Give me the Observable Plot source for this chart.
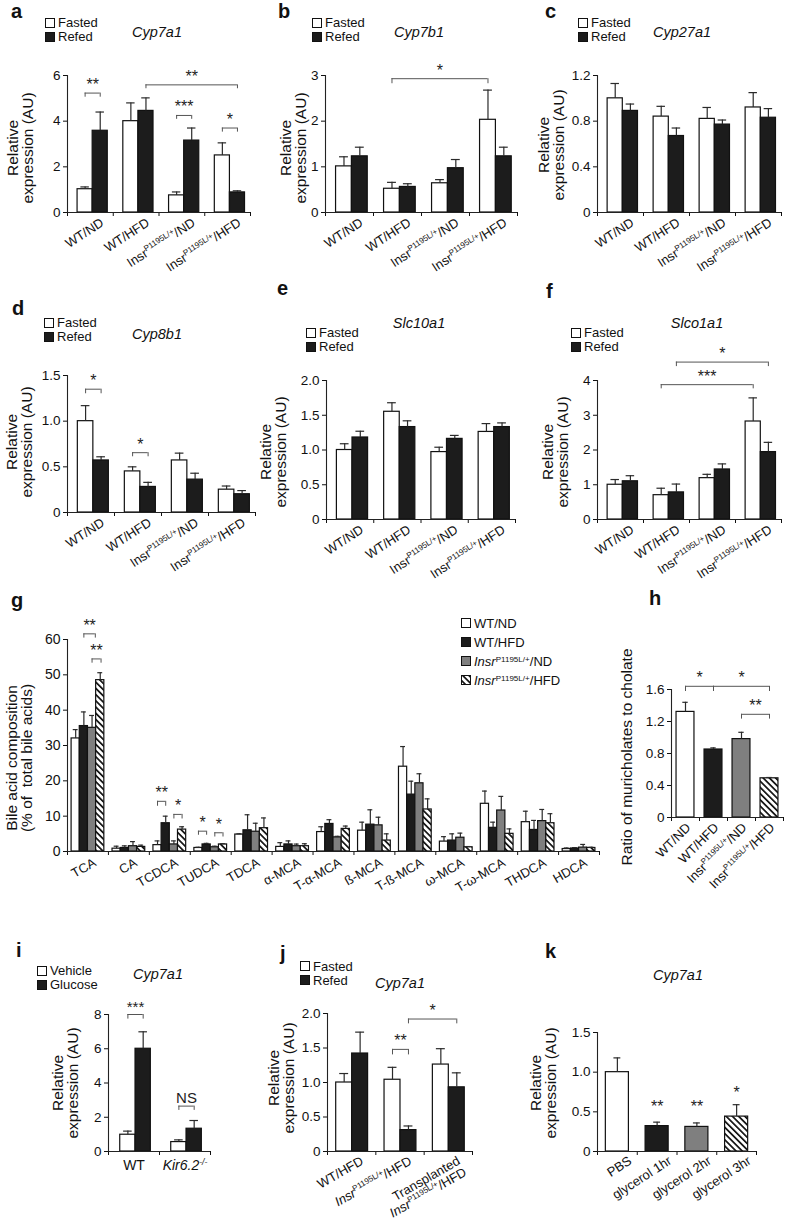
<!DOCTYPE html>
<html>
<head>
<meta charset="utf-8">
<script src="https://cdn.jsdelivr.net/npm/d3@7"></script>
<script src="https://cdn.jsdelivr.net/npm/@observablehq/plot@0.6"></script>
<style>
  html, body { margin: 0; padding: 0; background: #fff; }
  #fig { position: relative; width: 787px; height: 1225px; overflow: hidden;
         font-family: "Liberation Sans", Arial, Helvetica, sans-serif; color: #111; }
  .abs { position: absolute; white-space: nowrap; }
  .panel svg { overflow: visible; display: block; }
  sup { font-size: 62%; line-height: 0; vertical-align: 0.5em; }
  .ylab { position: absolute; white-space: nowrap; text-align: center; font-size: 15.5px; line-height: 15px;
          transform: translate(-50%, -50%) rotate(-90deg); }
  .leg { position: absolute; font-size: 13px; line-height: 13px; height: 13px; display: flex; align-items: center; white-space: nowrap; }
  .leg span { display: block; line-height: 13px; height: 13px; }
</style>
</head>
<body>
<svg width="0" height="0" style="position:absolute">
  <defs>
    <pattern id="hatch" patternUnits="userSpaceOnUse" width="4.4" height="4.4" patternTransform="rotate(-45)">
      <rect width="4.4" height="4.4" fill="#ffffff"/>
      <rect width="1.7" height="4.4" fill="#111111"/>
    </pattern>
  </defs>
</svg>
<div id="fig"></div>
<script>
// ================= DATA =================
const groups4 = ["WT/ND", "WT/HFD", "Insr<sup>P1195L/+</sup>/ND", "Insr<sup>P1195L/+</sup>/HFD"];
const feedNames = ["Fasted", "Refed"];

// a  Cyp7a1
const aFasted = [1.02, 4.0, 0.75, 2.5];
const aFastedTop = [1.12, 4.8, 0.9, 3.05];
const aRefed = [3.58, 4.45, 3.15, 0.88];
const aRefedTop = [4.4, 5.02, 3.7, 0.95];
const aSig = [
  {g1: 0, s1: 0, g2: 0, s2: 1, y: 5.23, leg: 5.05, label: "**"},
  {g1: 1, s1: 1, g2: 3, s2: 1, y: 5.59, leg: 5.42, label: "**"},
  {g1: 2, s1: 0, g2: 2, s2: 1, y: 4.25, leg: 4.08, label: "***"},
  {g1: 3, s1: 0, g2: 3, s2: 1, y: 3.70, leg: 3.52, label: "*"}
];

// b  Cyp7b1
const bFasted = [1.01, 0.52, 0.64, 2.03];
const bFastedTop = [1.22, 0.66, 0.72, 2.68];
const bRefed = [1.23, 0.56, 0.97, 1.23];
const bRefedTop = [1.43, 0.63, 1.16, 1.43];
const bSig = [{g1: 1, s1: 0, g2: 3, s2: 0, y: 2.93, leg: 2.82, label: "*"}];

// c  Cyp27a1
const cFasted = [1.0, 0.84, 0.82, 0.92];
const cFastedTop = [1.13, 0.93, 0.92, 1.05];
const cRefed = [0.89, 0.67, 0.77, 0.83];
const cRefedTop = [0.95, 0.74, 0.81, 0.91];

// d  Cyp8b1
const dFasted = [1.0, 0.45, 0.57, 0.25];
const dFastedTop = [1.17, 0.5, 0.65, 0.29];
const dRefed = [0.57, 0.28, 0.36, 0.2];
const dRefedTop = [0.61, 0.33, 0.43, 0.24];
const dSig = [
  {g1: 0, s1: 0, g2: 0, s2: 1, y: 1.35, leg: 1.30, label: "*"},
  {g1: 1, s1: 0, g2: 1, s2: 1, y: 0.655, leg: 0.61, label: "*"}
];

// e  Slc10a1
const eFasted = [1.0, 1.55, 0.97, 1.26];
const eFastedTop = [1.09, 1.68, 1.04, 1.38];
const eRefed = [1.18, 1.33, 1.16, 1.33];
const eRefedTop = [1.27, 1.42, 1.21, 1.39];

// f  Slco1a1
const fFasted = [1.0, 0.7, 1.19, 2.82];
const fFastedTop = [1.15, 0.9, 1.3, 3.5];
const fRefed = [1.1, 0.78, 1.44, 1.94];
const fRefedTop = [1.26, 1.02, 1.6, 2.22];
const fSig = [
  {g1: 1, s1: 0, g2: 3, s2: 0, y: 3.88, leg: 3.76, label: "***"},
  {g1: 1, s1: 1, g2: 3, s2: 1, y: 4.53, leg: 4.40, label: "*"}
];

// g  bile acid composition
const bileAcids = ["TCA", "CA", "TCDCA", "TUDCA", "TDCA", "α-MCA", "T-α-MCA", "ß-MCA", "T-ß-MCA", "ω-MCA", "T-ω-MCA", "THDCA", "HDCA"];
const genoNames = ["WT/ND", "WT/HFD", "<i>Insr</i><sup>P1195L/+</sup>/ND", "<i>Insr</i><sup>P1195L/+</sup>/HFD"];
const gWTND      = [32.0, 0.8, 1.8, 1.0, 4.8, 1.3, 5.5, 5.9, 24.0, 2.8, 13.5, 8.3, 0.7];
const gWTNDTop   = [34.5, 1.5, 3.0, 1.2, 5.0, 2.5, 7.0, 8.3, 29.7, 4.2, 17.1, 11.4, 1.0];
const gWTHFD     = [35.5, 1.0, 8.0, 2.0, 6.0, 2.0, 7.8, 7.6, 16.1, 3.1, 6.7, 6.1, 0.85];
const gWTHFDTop  = [39.5, 1.6, 10.0, 2.3, 10.4, 3.0, 9.0, 11.8, 19.9, 5.0, 8.3, 8.8, 1.1];
const gInsND     = [35.0, 1.5, 2.0, 1.2, 5.6, 1.5, 4.0, 7.4, 19.3, 3.9, 11.6, 8.6, 1.1];
const gInsNDTop  = [38.5, 2.8, 3.0, 1.5, 8.0, 2.1, 4.3, 9.7, 22.0, 5.2, 15.6, 11.9, 2.0];
const gInsHFD    = [48.5, 1.3, 6.2, 2.0, 6.6, 1.5, 6.4, 3.1, 11.9, 1.2, 5.0, 8.0, 1.0];
const gInsHFDTop = [50.6, 1.8, 7.0, 2.2, 9.5, 2.2, 7.2, 5.0, 14.9, 1.4, 6.4, 10.7, 1.2];
const gSig = [
  {g1: 0, s1: 1, g2: 0, s2: 2.4, y: 61.6, leg: 60.4, label: "**"},
  {g1: 0, s1: 2, g2: 0, s2: 3.1, y: 54.5, leg: 53.3, label: "**"},
  {g1: 2, s1: 0, g2: 2, s2: 1, y: 14.2, leg: 12.8, label: "**"},
  {g1: 2, s1: 2, g2: 2, s2: 3, y: 10.5, leg: 9.2, label: "*"},
  {g1: 3, s1: 0, g2: 3, s2: 1, y: 5.75, leg: 4.6, label: "*"},
  {g1: 3, s1: 2, g2: 3, s2: 3, y: 5.3, leg: 4.1, label: "*"}
];

// h  ratio of muricholates to cholate
const hGroups = ["WT/ND", "WT/HFD", "Insr<sup>P1195L/+</sup>/ND", "Insr<sup>P1195L/+</sup>/HFD"];
const hRatio = [1.32, 0.85, 0.98, 0.49];
const hRatioTop = [1.44, 0.87, 1.065, 0.50];
const hSig = [
  {g1: 0, s1: 0, g2: 1, s2: 0, y: 1.64, leg: 1.575, label: "*"},
  {g1: 1, s1: 0, g2: 3, s2: 0, y: 1.64, leg: 1.575, label: "*"},
  {g1: 2, s1: 0, g2: 3, s2: 0, y: 1.29, leg: 1.23, label: "**"}
];

// i  Cyp7a1, glucose
const iGroups = ["WT", "<i>Kir6.2</i><sup><i>-/-</i></sup>"];
const iNames = ["Vehicle", "Glucose"];
const iVehicle = [0.98, 0.55];
const iVehicleTop = [1.19, 0.68];
const iGlucose = [6.0, 1.33];
const iGlucoseTop = [6.99, 1.81];
const iSig = [
  {g1: 0, s1: 0, g2: 0, s2: 1, y: 8.0, leg: 7.73, label: "***"},
  {g1: 1, s1: 0, g2: 1, s2: 1, y: 2.65, leg: 2.4, label: "NS"}
];

// j  Cyp7a1, transplantation
const jGroups = ["WT/HFD", "<i>Insr</i><sup>P1195L/+</sup>/HFD", "Transplanted\n<i>Insr</i><sup>P1195L/+</sup>/HFD"];
const jFasted = [1.0, 1.04, 1.26];
const jFastedTop = [1.13, 1.22, 1.49];
const jRefed = [1.42, 0.31, 0.93];
const jRefedTop = [1.73, 0.37, 1.14];
const jSig = [
  {g1: 1, s1: 0, g2: 1, s2: 1, y: 1.48, leg: 1.40, label: "**"},
  {g1: 1, s1: 1, g2: 2, s2: 1, y: 1.92, leg: 1.85, label: "*"}
];

// k  Cyp7a1, glycerol
const kGroups = ["PBS", "glycerol 1hr", "glycerol 2hr", "glycerol 3hr"];
const kValues = [1.0, 0.32, 0.31, 0.44];
const kTops = [1.18, 0.37, 0.36, 0.59];
const kStars = [
  {g: 1, y: 0.50, label: "**"},
  {g: 2, y: 0.50, label: "**"},
  {g: 3, y: 0.68, label: "*"}
];

// ================= STYLE =================
const FONT = '"Liberation Sans", Arial, Helvetica, sans-serif';
const WHITE = "#ffffff", BLACK = "#1c1c1c", GREY = "#7f7f7f", HATCH = "url(#hatch)";
const fmtInt = d => String(d);
const fmtDec = d => d === 0 ? "0" : d.toFixed(1);
const fig = document.getElementById("fig");
const NS = "http://www.w3.org/2000/svg";

// turn <i>..</i> and <sup>..</sup> markup in svg text into tspans
function richify(root) {
  const leaves = Array.from(root.querySelectorAll("text, tspan")).filter(el => el.children.length === 0 && el.textContent.includes("<"));
  for (const el of leaves) {
    const parts = el.textContent.split(/(<\/?(?:i|sup)>)/);
    el.textContent = "";
    let italic = false, sup = false, shifted = false;
    for (const p of parts) {
      if (p === "<i>") italic = true;
      else if (p === "</i>") italic = false;
      else if (p === "<sup>") sup = true;
      else if (p === "</sup>") sup = false;
      else if (p) {
        const t = document.createElementNS(NS, "tspan");
        t.textContent = p;
        if (italic) t.setAttribute("font-style", "italic");
        if (sup) {
          t.style.fontSize = "62%";
          if (!shifted) { t.setAttribute("dy", "-0.62em"); shifted = true; }
        } else if (shifted) {
          t.setAttribute("dy", "0.385em"); shifted = false;
        }
        el.appendChild(t);
      }
    }
  }
}

function panel(p) {
  const n = p.groups.length;
  const rows = [];
  p.series.forEach((s, j) => s.values.forEach((v, i) => {
    const x1 = i + p.off + j * p.bw;
    rows.push({j, fill: s.fills ? s.fills[i] : s.fill, x1, x2: x1 + p.bw, xc: x1 + p.bw / 2,
      cl: x1 + p.bw * (0.5 - p.cap), cr: x1 + p.bw * (0.5 + p.cap), v, top: s.tops[i], base: 0});
  }));
  const xAt = (g, s) => g + p.off + (s + 0.5) * p.bw;
  const sig = (p.sig || []).map(b => {
    const xa = xAt(b.g1, b.s1), xb = xAt(b.g2, b.s2);
    return {...b, xa, xb, xm: (xa + xb) / 2};
  });
  const stars = (p.stars || []).map(s => ({...s, x: xAt(s.g, 0)}));
  const labels = p.groups.map((g, i) => ({label: g, x: i + 0.5, y: 0}));
  const marks = [];
  for (const [fill, rs] of d3.group(rows, r => r.fill)) {
    marks.push(Plot.rect(rs, {x1: "x1", x2: "x2", y1: "base", y2: "v", fill, stroke: "#111", strokeWidth: 1.2}));
  }
  marks.push(Plot.ruleX(rows, {x: "xc", y1: "v", y2: "top", stroke: "#2a2a2a", strokeWidth: 1.2}));
  marks.push(Plot.ruleY(rows, {y: "top", x1: "cl", x2: "cr", stroke: "#2a2a2a", strokeWidth: 1.2}));
  marks.push(Plot.ruleY([0], {stroke: "#222", strokeWidth: 1.1}));
  marks.push(Plot.ruleX([0], {y1: 0, y2: p.yMax, stroke: "#222", strokeWidth: 1.1}));
  marks.push(Plot.ruleY(sig, {y: "y", x1: "xa", x2: "xb", stroke: "#555", strokeWidth: 1}));
  marks.push(Plot.ruleX(sig, {x: "xa", y1: "leg", y2: "y", stroke: "#555", strokeWidth: 1}));
  marks.push(Plot.ruleX(sig, {x: "xb", y1: "leg", y2: "y", stroke: "#555", strokeWidth: 1}));
  marks.push(Plot.text(sig, {x: "xm", y: "y", text: "label", lineAnchor: "bottom", dy: -3, fontSize: p.sigSize || 16, fill: "#222"}));
  marks.push(Plot.text(stars, {x: "x", y: "y", text: "label", lineAnchor: "bottom", fontSize: 16, fill: "#222"}));
  marks.push(Plot.text(labels, {x: "x", y: "y", text: "label", rotate: p.rot,
    textAnchor: p.rot ? "end" : "middle", lineAnchor: p.lineAnchor || "middle",
    dx: p.ldx, dy: p.ldy, fontSize: p.lsize || 13, fill: "#111"}));
  const [bl, bt, bw, bh] = p.box;
  const [fl, ft, fr, fb] = p.frame;
  const svg = Plot.plot({
    width: bw, height: bh,
    marginLeft: fl - bl, marginTop: ft - bt, marginRight: bl + bw - fr, marginBottom: bt + bh - fb,
    style: {fontFamily: FONT, fontSize: (p.tsize || 13.5) + "px", color: "#111", background: "none", overflow: "visible"},
    x: {domain: [0, n], ticks: d3.range(0, n + 1), tickFormat: () => "", tickSize: 4, label: null},
    y: {domain: [0, p.yMax], ticks: p.ticks, tickFormat: p.fmt, tickSize: 4, tickPadding: 3, label: null},
    marks
  });
  richify(svg);
  const holder = document.createElement("div");
  holder.className = "panel abs";
  holder.style.left = bl + "px";
  holder.style.top = bt + "px";
  holder.appendChild(svg);
  fig.appendChild(holder);
}

function text(html, x, baseline, size, o = {}) {
  const d = document.createElement("div");
  d.className = "abs";
  d.innerHTML = html;
  d.style.fontSize = size + "px";
  d.style.lineHeight = size + "px";
  d.style.left = x + "px";
  d.style.top = (baseline - 0.8465 * size) + "px";
  if (o.bold) d.style.fontWeight = "bold";
  if (o.italic) d.style.fontStyle = "italic";
  if (o.center) d.style.transform = "translateX(-50%)";
  fig.appendChild(d);
}
function legend(x, ys, names, fills) {
  names.forEach((name, k) => {
    const d = document.createElement("div");
    d.className = "leg";
    d.style.left = x + "px";
    d.style.top = (ys[k] - 6.5) + "px";
    d.innerHTML = `<svg width="10" height="10" style="margin-right:3px;flex:none;display:block"><rect x="0.5" y="0.5" width="9" height="9" fill="${fills[k]}" stroke="#111"/></svg><span>${name}</span>`;
    fig.appendChild(d);
  });
}
function ylab(html, cx, cy) {
  const d = document.createElement("div");
  d.className = "ylab";
  d.innerHTML = html;
  d.style.left = cx + "px";
  d.style.top = cy + "px";
  fig.appendChild(d);
}

// ================= PANELS =================
const feedFills = [WHITE, BLACK];
const xl4 = {rot: -33, ldx: 12, ldy: 9, lsize: 13};
const two = {off: 0.22, bw: 0.33, cap: 0.28};
const RE = "Relative<br>expression (AU)";

panel({...two, ...xl4, groups: groups4, box: [0, 40, 262, 255], frame: [67, 75, 250, 212], yMax: 6, ticks: [0, 2, 4, 6], fmt: fmtInt,
  series: [{fill: WHITE, values: aFasted, tops: aFastedTop}, {fill: BLACK, values: aRefed, tops: aRefedTop}], sig: aSig});
panel({...two, ...xl4, groups: groups4, box: [262, 40, 262, 255], frame: [325, 75, 517, 212], yMax: 3, ticks: [0, 1, 2, 3], fmt: fmtInt,
  series: [{fill: WHITE, values: bFasted, tops: bFastedTop}, {fill: BLACK, values: bRefed, tops: bRefedTop}], sig: bSig});
panel({...two, ...xl4, groups: groups4, box: [524, 40, 263, 255], frame: [597, 75, 781, 212], yMax: 1.2, ticks: [0, 0.4, 0.8, 1.2], fmt: fmtDec,
  series: [{fill: WHITE, values: cFasted, tops: cFastedTop}, {fill: BLACK, values: cRefed, tops: cRefedTop}]});
panel({...two, ...xl4, groups: groups4, box: [0, 340, 262, 260], frame: [67, 375, 255, 512], yMax: 1.5, ticks: [0, 0.5, 1.0, 1.5], fmt: fmtDec,
  series: [{fill: WHITE, values: dFasted, tops: dFastedTop}, {fill: BLACK, values: dRefed, tops: dRefedTop}], sig: dSig});
panel({...two, ...xl4, groups: groups4, box: [262, 340, 262, 260], frame: [326, 380, 515, 519], yMax: 2.0, ticks: [0, 0.5, 1.0, 1.5, 2.0], fmt: fmtDec,
  series: [{fill: WHITE, values: eFasted, tops: eFastedTop}, {fill: BLACK, values: eRefed, tops: eRefedTop}]});
panel({...two, ...xl4, groups: groups4, box: [524, 340, 263, 260], frame: [597, 380, 781, 519], yMax: 4, ticks: [0, 1, 2, 3, 4], fmt: fmtInt,
  series: [{fill: WHITE, values: fFasted, tops: fFastedTop}, {fill: BLACK, values: fRefed, tops: fRefedTop}], sig: fSig});

panel({off: 0.1, bw: 0.2, cap: 0.3, rot: -30, ldx: 7, ldy: 10, lsize: 13, tsize: 14,
  groups: bileAcids, box: [0, 600, 615, 310], frame: [67, 639, 599, 851], yMax: 60, ticks: [0, 10, 20, 30, 40, 50, 60], fmt: fmtInt,
  series: [{fill: WHITE, values: gWTND, tops: gWTNDTop}, {fill: BLACK, values: gWTHFD, tops: gWTHFDTop},
           {fill: GREY, values: gInsND, tops: gInsNDTop}, {fill: HATCH, values: gInsHFD, tops: gInsHFDTop}], sig: gSig});

panel({off: 0.18, bw: 0.64, cap: 0.15, rot: -45, ldx: 3, ldy: 8, lsize: 13, tsize: 13.5,
  groups: hGroups, box: [640, 600, 147, 310], frame: [671, 689, 783, 817], yMax: 1.6, ticks: [0, 0.4, 0.8, 1.2, 1.6], fmt: fmtDec,
  series: [{fills: [WHITE, BLACK, GREY, HATCH], values: hRatio, tops: hRatioTop}], sig: hSig});

panel({off: 0.23, bw: 0.3, cap: 0.28, rot: 0, lineAnchor: "top", ldx: 0, ldy: 9, lsize: 14, sigSize: 15,
  groups: iGroups, box: [40, 990, 222, 235], frame: [108, 1014, 210, 1151], yMax: 8, ticks: [0, 2, 4, 6, 8], fmt: fmtInt,
  series: [{fill: WHITE, values: iVehicle, tops: iVehicleTop}, {fill: BLACK, values: iGlucose, tops: iGlucoseTop}], sig: iSig});

panel({off: 0.18, bw: 0.33, cap: 0.28, rot: -30, lineAnchor: "top", ldx: 8, ldy: 4, lsize: 13,
  groups: jGroups, box: [262, 990, 262, 235], frame: [327, 1013, 472, 1151], yMax: 2.0, ticks: [0, 0.5, 1.0, 1.5, 2.0], fmt: fmtDec,
  series: [{fill: WHITE, values: jFasted, tops: jFastedTop}, {fill: BLACK, values: jRefed, tops: jRefedTop}], sig: jSig});

panel({off: 0.21, bw: 0.58, cap: 0.15, rot: -33, ldx: 13, ldy: 8, lsize: 13,
  groups: kGroups, box: [524, 990, 263, 235], frame: [597, 1032, 756, 1151], yMax: 1.5, ticks: [0, 0.5, 1.0, 1.5], fmt: fmtDec,
  series: [{fills: [WHITE, BLACK, GREY, HATCH], values: kValues, tops: kTops}], stars: kStars});

// ================= TEXT: panel letters, gene titles, legends, axis titles =================
[["a", 11, 18], ["b", 278, 18], ["c", 545, 18], ["d", 12, 315], ["e", 277, 295], ["f", 546, 298],
 ["g", 11, 607], ["h", 649, 605], ["i", 16, 957], ["j", 280, 960], ["k", 545, 958]]
  .forEach(([t, x, y]) => text(t, x, y, 20, {bold: true}));

[["Cyp7a1", 157, 37], ["Cyp7b1", 419, 37], ["Cyp27a1", 682, 37],
 ["Cyp8b1", 157, 339], ["Slc10a1", 419, 328], ["Slco1a1", 697, 328],
 ["Cyp7a1", 158, 979], ["Cyp7a1", 400, 988], ["Cyp7a1", 678, 980]]
  .forEach(([t, x, y]) => text(t, x, y, 14.5, {italic: true, center: true}));

legend(45, [22.5, 36.5], feedNames, feedFills);
legend(312, [22.5, 36.5], feedNames, feedFills);
legend(578, [22.5, 36.5], feedNames, feedFills);
legend(44, [322.5, 336.5], feedNames, feedFills);
legend(306, [332.5, 346.5], feedNames, feedFills);
legend(571, [332.5, 346.5], feedNames, feedFills);
legend(37, [970.5, 984.5], iNames, feedFills);
legend(300, [966, 980], feedNames, feedFills);
legend(461, [623, 642, 661, 680], genoNames, [WHITE, BLACK, GREY, HATCH]);

ylab(RE, 20, 148);
ylab(RE, 293, 148);
ylab(RE, 551, 145);
ylab(RE, 19, 442);
ylab(RE, 273, 452);
ylab(RE, 555, 452);
ylab("Bile acid composition<br>(% of&nbsp; total bile acids)", 19, 758);
ylab("Ratio of muricholates to cholate", 626, 757);
ylab(RE, 65, 1083);
ylab(RE, 281, 1078);
ylab(RE, 543, 1083);
</script>
</body>
</html>
